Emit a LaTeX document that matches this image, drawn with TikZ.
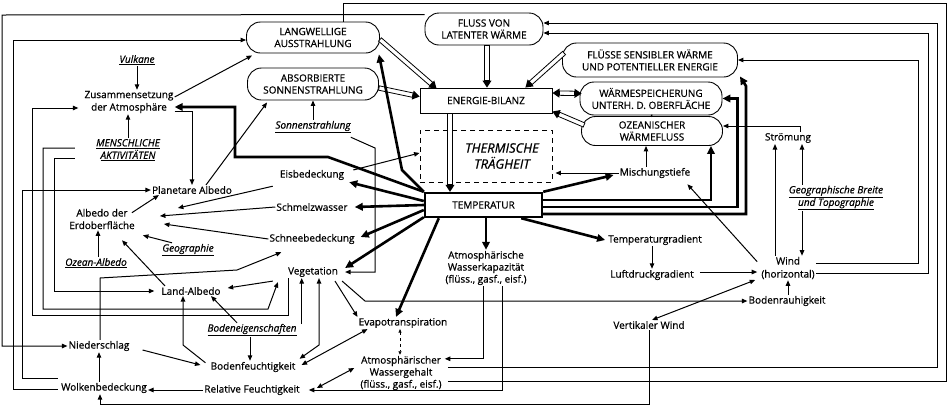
\documentclass[tikz,border=0pt]{standalone}
\usepackage{fontspec}
\setmainfont{Open Sans}[FakeBold=0.7]
\usetikzlibrary{arrows.meta,calc}
\newcommand\harrow[2]{%
  \coordinate (ha1) at (#1);
  \coordinate (ha2) at (#2);
  \coordinate (hab) at ($(ha2)!7pt!(ha1)$);
  \filldraw[fill=white,line width=0.8pt] ($(ha1)!2.2pt!90:(ha2)$) -- ($(hab)!2.2pt!90:(ha2)$) -- ($(hab)!2.2pt!-90:(ha2)$) -- ($(ha1)!2.2pt!-90:(ha2)$) -- cycle;
  \fill ($(hab)!4.6pt!90:(ha2)$) -- (ha2) -- ($(hab)!4.6pt!-90:(ha2)$) -- cycle;
}
\newcommand\hharrow[2]{%
  \coordinate (ha1) at (#1);
  \coordinate (ha2) at (#2);
  \coordinate (hab) at ($(ha2)!7pt!(ha1)$);
  \coordinate (haa) at ($(ha1)!7pt!(ha2)$);
  \filldraw[fill=white,line width=0.8pt] ($(haa)!2.2pt!90:(ha2)$) -- ($(hab)!2.2pt!90:(ha2)$) -- ($(hab)!2.2pt!-90:(ha2)$) -- ($(haa)!2.2pt!-90:(ha2)$) -- cycle;
  \fill ($(hab)!4.6pt!90:(ha2)$) -- (ha2) -- ($(hab)!4.6pt!-90:(ha2)$) -- cycle;
  \fill ($(haa)!4.6pt!90:(ha2)$) -- (ha1) -- ($(haa)!4.6pt!-90:(ha2)$) -- cycle;
}
\begin{document}
\begin{tikzpicture}[x=1pt,y=-1pt,
  lbl/.style={font=\fontsize{10}{12.5}\selectfont, align=center, inner sep=1pt},
  ulbl/.style={font=\fontsize{10}{12.5}\selectfont\itshape, align=center, inner sep=1pt},
  pill/.style={draw, line width=0.9pt, rounded corners=14pt, fill=white, align=center, font=\fontsize{10}{12}\selectfont, inner sep=0pt},
  rbox/.style={draw, line width=0.9pt, fill=white, align=center, font=\fontsize{10}{12}\selectfont, inner sep=0pt},
  thinarr/.style={line width=1pt, -{Triangle[length=5.5pt,width=4.5pt]}},
  thinarrb/.style={line width=1pt, {Triangle[length=5.5pt,width=4.5pt]}-{Triangle[length=5.5pt,width=4.5pt]}},
  thickarr/.style={line width=2.6pt, -{Triangle[length=8pt,width=7.5pt]}},
  thinline/.style={line width=1pt},
]
\useasboundingbox (0,0) rectangle (949,408);

% ---------- plain labels
\node[ulbl] (vul) at (137,60) {\underline{Vulkane}};
\node[lbl] (zus) at (129,102) {Zusammensetzung\\der Atmosphäre};
\node[ulbl] (men) at (128,150) {\underline{MENSCHLICHE}\\\underline{AKTIVITÄTEN}};
\node[lbl] (pla) at (192,190) {Planetare Albedo};
\node[lbl] (aed) at (102,219) {Albedo der\\Erdoberfläche};
\node[ulbl] (geo) at (188,250) {\underline{Geographie}};
\node[ulbl] (oza) at (96,263) {\underline{Ozean-Albedo}};
\node[ulbl] (sonn) at (313,127) {\underline{Sonnenstrahlung}};
\node[lbl] (eis) at (312,175) {Eisbedeckung};
\node[lbl] (smw) at (312,207) {Schmelzwasser};
\node[lbl] (snb) at (312,239) {Schneebedeckung};
\node[lbl] (veg) at (313,272) {Vegetation};
\node[lbl] (lal) at (191,291) {Land-Albedo};
\node[ulbl] (bod) at (252,330) {\underline{Bodeneigenschaften}};
\node[lbl] (nie) at (99,346) {Niederschlag};
\node[lbl] (bfk) at (253,367) {Bodenfeuchtigkeit};
\node[lbl] (wol) at (104,388) {Wolkenbedeckung};
\node[lbl] (rel) at (252,390) {Relative Feuchtigkeit};
\node[lbl] (eva) at (403,323) {Evapotranspiration};
\node[lbl, font=\fontsize{10}{12}\selectfont] (wgh) at (401,373) {Atmosphärischer\\Wassergehalt\\(flüss., gasf., eisf.)};
\node[lbl, font=\fontsize{10}{12}\selectfont] (wkp) at (486,268) {Atmosphärische\\Wasserkapazität\\(flüss., gasf., eisf.)};
\node[lbl] (mis) at (655,173) {Mischungstiefe};
\node[lbl] (tgr) at (655,240) {Temperaturgradient};
\node[lbl] (ldg) at (652,275) {Luftdruckgradient};
\node[lbl, font=\fontsize{10}{13}\selectfont] (wind) at (788,268) {Wind\\(horizontal)};
\node[lbl] (brh) at (787,301) {Bodenrauhigkeit};
\node[lbl] (vwi) at (649,325) {Vertikaler Wind};
\node[lbl] (str) at (788,138) {Strömung};
\node[ulbl] (gbt) at (836,198) {\underline{Geographische Breite}\\\underline{und Topographie}};

% ---------- boxes
\node[pill, minimum width=133pt, minimum height=31pt] (lw) at (313,37.5) {LANGWELLIGE\\AUSSTRAHLUNG};
\node[pill, minimum width=131pt, minimum height=32pt] (ab) at (313,84) {ABSORBIERTE\\SONNENSTRAHLUNG};
\node[pill, minimum width=118pt, minimum height=32pt] (fl) at (484,29) {FLUSS VON\\LATENTER WÄRME};
\node[pill, minimum width=175pt, minimum height=34pt] (fs) at (650,60) {FLÜSSE SENSIBLER WÄRME\\UND POTENTIELLER ENERGIE};
\node[pill, minimum width=142pt, minimum height=33pt] (ws) at (651,98.5) {WÄRMESPEICHERUNG\\UNTERH. D. OBERFLÄCHE};
\node[pill, minimum width=141pt, minimum height=29pt] (oz) at (652,131) {OZEANISCHER\\WÄRMEFLUSS};
\node[rbox, minimum width=132pt, minimum height=25pt] (eb) at (486,100.5) {ENERGIE-BILANZ};
\node[draw, line width=0.9pt, dash pattern=on 5pt off 4pt, minimum width=132pt, minimum height=52pt,
      label={[xshift=16pt, font=\fontsize{13}{16}\selectfont\itshape, align=center]center:THERMISCHE\\TRÄGHEIT}] (tt) at (486,156) {};
\node[rbox, line width=2.4pt, minimum width=117pt, minimum height=24pt] (temp) at (483.5,205) {TEMPERATUR};

% ---------- hollow arrows into / out of the energy balance
\harrow{[yshift=-2pt]lw.east}{[xshift=17pt,yshift=-1pt]eb.north west}
\harrow{[yshift=-4pt]ab.east}{[yshift=-9pt]eb.north west}
\harrow{[xshift=3pt]fl.south}{[xshift=1pt]eb.north}
\harrow{[xshift=2pt,yshift=7pt]fs.west}{[xshift=-27pt]eb.north east}
\hharrow{[yshift=7.5pt]eb.east}{[xshift=2pt,yshift=5pt]ws.west}
\harrow{[xshift=3pt,yshift=6pt]oz.west}{[yshift=-11pt]eb.east}
\harrow{[xshift=-36pt]eb.south}{[xshift=-33.5pt]temp.north}
\draw[line width=2.5pt] (ws.south) -- (oz.north);

% ---------- thick arrows from TEMPERATUR
\draw[thickarr] (temp.north west) -- (328,157) -- (235,157) -- (235,107) -- ([yshift=-5pt]zus.east);
\draw[thickarr] (temp.north west) -- (402,170) -- ([xshift=-1pt,yshift=-1pt]lw.south east);
\draw[thickarr] ([yshift=4pt]temp.west) -- ([xshift=4pt,yshift=-1pt]eis.south east);
\draw[thickarr] (temp.west) -- ([xshift=6pt]smw.east);
\draw[thickarr] ([yshift=-5pt]temp.west) -- ([xshift=5pt,yshift=2pt]snb.east);
\draw[thickarr] ([yshift=1pt]temp.south west) -- ([xshift=6pt,yshift=4pt]veg.east);
\draw[thickarr] ([xshift=15pt]temp.south west) -- ([xshift=-7pt]eva.north);
\draw[thickarr] (wkp.north |- temp.south) -- (wkp.north);
\draw[thickarr] ([xshift=-22pt]temp.south east) -- ([xshift=-2pt]tgr.west);
\draw[thickarr] (temp.north east) -- ([xshift=-5pt,yshift=-2pt]mis.west);
\draw[thickarr] ([yshift=5pt]temp.east) -| ([xshift=-12pt]oz.south east);
\draw[thickarr] ([yshift=-2pt]temp.east) -| ([xshift=15pt]ws.east) -- (ws.east);
\draw[thickarr] ([yshift=-9pt]temp.east) -| (746,86) -- ([xshift=2pt,yshift=1pt]fs.south east);

% ---------- upper left
\draw[thinarr] (vul.south) -- (vul.south |- zus.north);
\draw[thinarr] (men.north) -- (men.north |- zus.south);
\draw[thinarr] ([yshift=5pt]zus.east) -- ([xshift=6pt,yshift=-2pt]lw.south west);
\draw[thinarr] ([xshift=14pt]pla.north) -- ([xshift=20pt,yshift=-2pt]ab.south west);
\draw[thinarr] (sonn.north) -- (ab.south);
\draw[thinarr] ([yshift=-9pt]zus.east) -| (pla.north);
\draw[thinarr] ($(sonn.south east)+(-1,3)$) -- (375,148) |- ($(veg.east)+(6,0)$);

% ---------- near the energy boxes
\draw[thinarr] ([xshift=8pt,yshift=5pt]eis.east) -- ([yshift=3pt]tt.west);
\draw[thinarr] (mis.west) -- ($(tt.east |- mis.west)+(3,0)$);
\coordinate (m1) at ($(mis.north)+(-9,0)$);
\draw[thinarr] (m1) -- (m1 |- oz.south);

% ---------- albedo cluster
\draw[thinarr] ([xshift=-6pt,yshift=-5pt]eis.south west) -- ([xshift=42pt,yshift=11pt]aed.east);
\draw[thinarr] (smw.west) -- ([xshift=24pt,yshift=3pt]aed.east);
\draw[thinarr] (snb.west) -- ([xshift=28pt,yshift=-5pt]aed.east);
\draw[thinarr] ([xshift=-4pt,yshift=-5pt]aed.north east) -- ([xshift=8pt]pla.south west);
\draw[thinarr] ([xshift=-16pt]geo.north) -- ([xshift=7pt,yshift=-5pt]aed.south east);
\coordinate (o1) at ($(oza.north)+(2,0)$);
\draw[thinarr] (o1) -- (o1 |- aed.south);
\draw[thinarr] ([xshift=-26pt]lal.north) -- ([xshift=20pt,yshift=-10pt]aed.south);
\draw[thinarr] ([xshift=1pt]nie.north) -- (100,278) -- (237,270) -- ([xshift=13pt,yshift=-7pt]snb.south west);
\draw[thinarr] ([xshift=-14pt,yshift=-3pt]veg.south west) -- ([xshift=6pt,yshift=3pt]lal.east);
\draw[thinarr] ([xshift=-15pt]bod.north) -- ([xshift=20pt]lal.south);
\draw[thinarr] ([xshift=-4pt,yshift=-2pt]bfk.north west) -- (183,345) -- ([xshift=-8pt]lal.south);
\coordinate (bd1) at ($(bod.south)+(-2,0)$);
\draw[thinarr] (bd1) -- (bd1 |- bfk.north);
\coordinate (bd2) at ($(bod.east)+(4,-6)$);
\draw[thinarr] (bd2) -- (bd2 |- veg.south);
\draw[thinarrb] ([xshift=6pt]veg.south) -- (319,345) -- ([xshift=3pt,yshift=2pt]bfk.north east);
\draw[thinarrb] ([xshift=10pt]eva.south west) -- ([xshift=5pt,yshift=2pt]bfk.east);
\draw[thinarr] ([xshift=22pt,yshift=-3pt]veg.south) -- (eva.north west);
\draw[thinarr] ([xshift=3pt,yshift=-3pt]veg.south east) -- (365,301) -- (brh.west);

% ---------- water
\coordinate (e1) at ($(eva.south)+(-3,0)$);
\draw[dashed, line width=0.7pt, {Triangle[length=3.5pt,width=3pt]}-{Triangle[length=3.5pt,width=3pt]}] (e1) -- (e1 |- wgh.north);
\draw[thinarrb] ([xshift=-5pt,yshift=5pt]wgh.west) -- ([xshift=16pt,yshift=2pt]rel.east);
\draw[thinarr] ($(wkp.south)+(-3,0)$) |- ($(wgh.north east)+(2,4)$);
\draw[thinarr] ($(wkp.south)+(16,0)$) |- ($(rel.east)+(8,0)$);
\draw[thinarr] (rel.west) -- (rel.west -| wol.east);
\draw[thinarr] (nie.south |- wol.north) -- (nie.south);
\draw[thinarr] ([xshift=12pt,yshift=-4pt]nie.east) -- ([xshift=-9pt,yshift=2pt]bfk.west);
\draw[thinarr] (vwi.south) |- ($(wol.south)+(-4,10)$) -- ($(wol.south)+(-4,0)$);

% ---------- long left-hand loops
\draw[thinarr] ($(wol.west)+(-2,1)$) -| (13,40) -- ($(lw.west)+(0,2.5)$);
\draw[thinarr] ($(wol.west)+(-2,-10)$) -| (22,190) -- (pla.west);
\draw[thinarr] ($(fl.north west)+(0,2)$) -- (2,15) -- (2,346) -- (nie.west);
\draw[thinarr] ($(veg.south)+(-25,0)$) -- (288,315) -- (32,315) -- (32,108) -- ($(zus.west)+(-5,6)$);
\draw[thinarr] ($(men.west)+(-20,-2)$) -- (43,148) -- (43,309) -- (268,309) -- ($(veg.south west)+(-9,4)$);
\draw[thinarr] ($(men.west)+(-20,8)$) -- (54,158) -- (54,291) -- ($(lal.west)+(-6,0)$);

% ---------- right part
\draw[thinarr] (ldg.north |- tgr.south) -- (ldg.north);
\draw[thinarr] ($(ldg.east)+(5,-3)$) -- ($(wind.west)+(-3,4)$);
\draw[thinarrb] ($(wind.west)+(-5,12)$) -- ($(vwi.north)+(3,0)$);
\draw[thinarr] (wind.south |- brh.north) -- (wind.south);
\draw[thinarr] ($(wind.north west)+(-3,6)$) -- ($(mis.south east)+(-4,5)$);
\coordinate (w1) at ($(wind.north)+(-13,0)$);
\draw[thinarr] (w1) -- (w1 |- str.south);
\coordinate (s1) at ($(str.south)+(14,0)$);
\draw[thinarr] (s1 |- gbt.north) -- (s1);
\draw[thinarr] (s1 |- gbt.south) -- (s1 |- wind.north);
\draw[thinarr] ($(str.north)+(12,0)$) |- ($(oz.east)+(0,-5)$);
\draw[thinarr] ($(wind.east)+(0,-5)$) -| (918,60) -- (fs.east);
\draw[thinarr] ($(wind.east)+(0,5)$) -| (928,33) -- ($(fl.east)+(0,4)$);
\draw[thinarr] ($(wgh.east)+(5,-6)$) -| (937,23) -- ($(fl.east)+(0,-6)$);
\draw[thinline] ($(wgh.east)+(5,8)$) -| (946,3) -- (343,3) -- ($(lw.north)+(30,0)$);
\end{tikzpicture}
\end{document}
